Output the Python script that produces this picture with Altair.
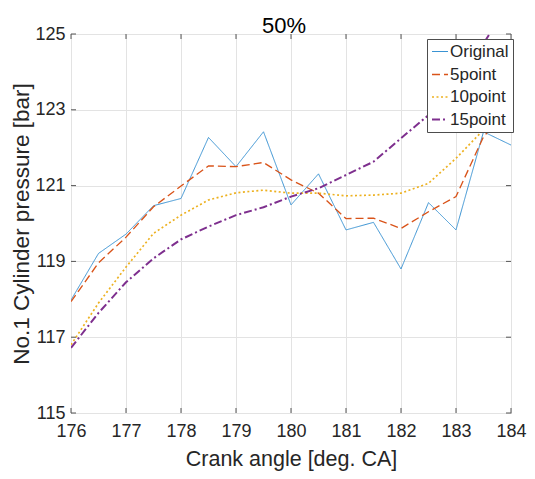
import altair as alt
import pandas as pd

crank = [176, 176.5, 177, 177.5, 178, 178.5, 179, 179.5, 180,
         180.5, 181, 181.5, 182, 182.5, 183, 183.5, 184]
original = [117.98, 119.21, 119.72, 120.47, 120.66, 122.27, 121.50, 122.42, 120.49,
            121.31, 119.83, 120.03, 118.80, 120.55, 119.83, 122.42, 122.07]
p5 = [117.94, 118.96, 119.64, 120.44, 120.99, 121.52, 121.50, 121.61, 121.15,
      120.80, 120.13, 120.14, 119.87, 120.31, 120.71, 122.29, 123.08]
p10 = [116.80, 117.90, 118.85, 119.74, 120.22, 120.62, 120.81, 120.88, 120.80,
       120.80, 120.73, 120.75, 120.80, 121.06, 121.72, 122.47, 123.52]
p15 = [116.72, 117.64, 118.45, 119.08, 119.58, 119.92, 120.22, 120.43, 120.71,
       120.93, 121.28, 121.63, 122.25, 122.86, 123.80, 124.75, 125.90]

series_names = ["Original", "5point", "10point", "15point"]
series_values = [original, p5, p10, p15]
series_colors = ["#3a93d3", "#D95319", "#EDB120", "#7E2F8E"]
series_dash = [[1, 0], [8, 4], [2, 2.5], [8, 3, 2, 3]]
series_width = [1, 2, 2, 2]

x_ticks = [176, 177, 178, 179, 180, 181, 182, 183, 184]
y_ticks = [115, 117, 119, 121, 123, 125]
title_text = ["50%"]

rows = []
for name, vals in zip(series_names, series_values):
    for x, y in zip(crank, vals):
        rows.append({"angle": x, "pressure": y, "series": name})
df = pd.DataFrame(rows)

W, H = 440, 379
FONT = "Liberation Sans"
TXT = "#262626"

xscale = alt.Scale(domain=[176, 184], nice=False, zero=False)
yscale = alt.Scale(domain=[115, 125], nice=False, zero=False)

legend = alt.Legend(
    orient="none", legendX=356, legendY=5, title=None,
    fillColor="white", strokeColor="#4d4d4d", padding=4,
    labelFontSize=17, labelFont=FONT, labelColor=TXT,
    symbolType="stroke", symbolSize=256, rowPadding=5.5, labelOffset=1,
)

lines = alt.Chart(df).mark_line(clip=True).encode(
    x=alt.X("angle:Q", scale=xscale,
            axis=alt.Axis(values=x_ticks, title="Crank angle [deg. CA]",
                          ticks=False, domain=False, labelPadding=9, labelFlush=False,
                          titlePadding=8, titleFontSize=21.5, grid=True)),
    y=alt.Y("pressure:Q", scale=yscale,
            axis=alt.Axis(values=y_ticks, title="No.1 Cylinder pressure [bar]",
                          ticks=False, domain=False, labelPadding=6,
                          titlePadding=1, titleFontSize=22.5, grid=True)),
    color=alt.Color("series:N", scale=alt.Scale(domain=series_names, range=series_colors),
                    legend=legend),
    strokeDash=alt.StrokeDash("series:N", scale=alt.Scale(domain=series_names, range=series_dash),
                              legend=legend),
    strokeWidth=alt.StrokeWidth("series:N", scale=alt.Scale(domain=series_names, range=series_width),
                                legend=legend),
    order=alt.Order("angle:Q"),
)

xt = pd.DataFrame({"t": x_ticks})
yt = pd.DataFrame({"t": y_ticks})
tick_color = "#555555"
xb = alt.Chart(xt).mark_rule(color=tick_color, strokeWidth=1).encode(
    x=alt.X("t:Q", scale=xscale), y=alt.value(H), y2=alt.value(H - 5))
xtop = alt.Chart(xt).mark_rule(color=tick_color, strokeWidth=1).encode(
    x=alt.X("t:Q", scale=xscale), y=alt.value(0), y2=alt.value(5))
yl = alt.Chart(yt).mark_rule(color=tick_color, strokeWidth=1).encode(
    y=alt.Y("t:Q", scale=yscale), x=alt.value(0), x2=alt.value(5))
yr = alt.Chart(yt).mark_rule(color=tick_color, strokeWidth=1).encode(
    y=alt.Y("t:Q", scale=yscale), x=alt.value(W), x2=alt.value(W - 5))

title = alt.Chart(pd.DataFrame({"t": title_text})).mark_text(
    font=FONT, fontSize=22, color="#000000", align="center", baseline="alphabetic"
).encode(text="t:N", x=alt.value(W / 2 - 7), y=alt.value(-1))

chart = alt.layer(xb, xtop, yl, yr, lines, title).properties(
    width=W, height=H,
    autosize=alt.AutoSizeParams(type="none"),
    padding={"left": 63, "top": 26, "right": 16, "bottom": 58},
).configure_view(
    stroke="#6b6b6b", strokeWidth=1
).configure_axis(
    labelFont=FONT, labelFontSize=18, labelColor=TXT,
    titleFont=FONT, titleFontWeight="normal", titleColor=TXT,
    gridColor="#e3e3e3", gridWidth=1, gridOpacity=1,
)

chart.save("out.html", embed_options={"renderer": "svg", "actions": False})
